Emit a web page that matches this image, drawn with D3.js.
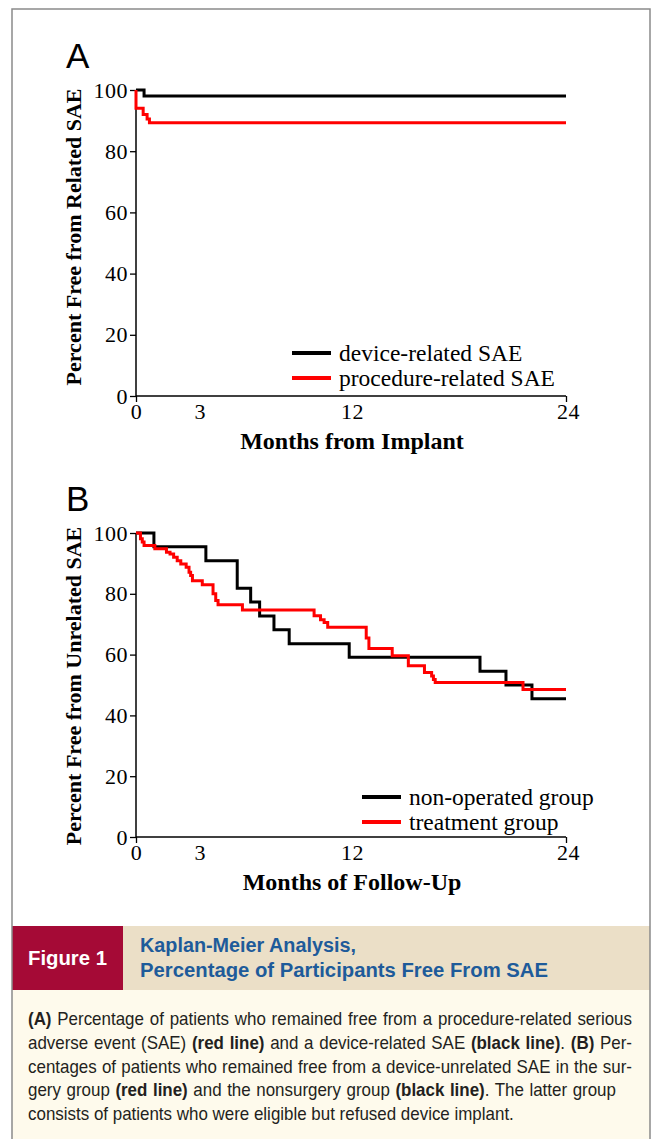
<!DOCTYPE html>
<html>
<head>
<meta charset="utf-8">
<script src="https://cdn.jsdelivr.net/npm/d3@7"></script>
<style>
  html, body { margin: 0; padding: 0; background: #fff; }
  svg { display: block; }
</style>
</head>
<body>
<svg id="fig" width="656" height="1139"></svg>
<script>
// ---------- DATA ----------
const monthTicks = [0, 3, 12, 24];
const percentTicks = [0, 20, 40, 60, 80, 100];

// Panel A
const deviceRelatedTimes = [0, 0.45];
const deviceRelatedValues = [100, 98];
const procedureRelatedTimes = [0, 0, 0.4, 0.62, 0.75];
const procedureRelatedValues = [100, 94, 92, 90.5, 89.3];

// Panel B
const nonOperatedTimes = [0, 1.0, 3.9, 5.65, 6.4, 6.9, 7.7, 8.55, 11.9, 19.2, 20.65, 22.1];
const nonOperatedValues = [100, 95.5, 90.9, 81.8, 77.3, 72.7, 68.2, 63.6, 59.1, 54.5, 50.0, 45.5];
const treatmentTimes = [0, 0.25, 0.35, 0.45, 1.05, 1.7, 1.9, 2.1, 2.3, 2.5, 2.8, 2.96, 3.05, 3.15, 3.7, 4.3, 4.45, 4.58, 5.94, 9.94, 10.3, 10.5, 10.7, 12.85, 13.0, 14.3, 15.2, 16.1, 16.5, 16.6, 16.7, 21.6];
const treatmentValues = [100, 98.1, 97.0, 95.9, 94.8, 93.7, 93.1, 92.0, 90.9, 89.8, 88.7, 87.1, 86.0, 84.3, 83.0, 80.0, 77.8, 76.4, 74.7, 72.8, 71.5, 70.6, 69.0, 65.5, 62.0, 59.6, 56.3, 54.1, 53.0, 51.8, 50.8, 48.5];
const followUpEnd = 24;

const panels = [
  {
    letter: "A",
    yLabel: "Percent Free from Related SAE",
    xLabel: "Months from Implant",
    series: [
      { name: "device-related SAE", times: deviceRelatedTimes, values: deviceRelatedValues, color: "#000000" },
      { name: "procedure-related SAE", times: procedureRelatedTimes, values: procedureRelatedValues, color: "#ff0000" }
    ],
    top: 90, bottom: 396, legendX: 292, legendY: 353, yLabelShift: -6
  },
  {
    letter: "B",
    yLabel: "Percent Free from Unrelated SAE",
    xLabel: "Months of Follow-Up",
    series: [
      { name: "non-operated group", times: nonOperatedTimes, values: nonOperatedValues, color: "#000000" },
      { name: "treatment group", times: treatmentTimes, values: treatmentValues, color: "#ff0000" }
    ],
    top: 533, bottom: 837, legendX: 362, legendY: 797, yLabelShift: 1
  }
];

const captionLines = [
  { parts: [["(A)", true], [" Percentage of patients who remained free from a procedure-related serious", false]], width: 604 },
  { parts: [["adverse event (SAE) ", false], ["(red line)", true], [" and a device-related SAE ", false], ["(black line)", true], [". ", false], ["(B)", true], [" Per-", false]], width: 604 },
  { parts: [["centages of patients who remained free from a device-unrelated SAE in the sur-", false]], width: 604 },
  { parts: [["gery group ", false], ["(red line)", true], [" and the nonsurgery group ", false], ["(black line)", true], [". The latter group", false]], width: 588 },
  { parts: [["consists of patients who were eligible but refused device implant.", false]], width: null }
];
const referenceLineIndex = 2;      // plain line used to set glyph width
const referenceLineNatural = 598;

// ---------- DRAW ----------
const svg = d3.select("#fig");
const serif = "'Liberation Serif', 'Times New Roman', serif";
const sans = "'Liberation Sans', Arial, sans-serif";
const narrow = "'Liberation Sans Narrow', 'Arial Narrow', 'Liberation Sans', sans-serif";

svg.append("rect").attr("x", 0).attr("y", 0).attr("width", 656).attr("height", 1139).attr("fill", "#ffffff");

const xLeft = 136, xRight = 566;

panels.forEach(p => {
  const x = d3.scaleLinear().domain([0, 24]).range([xLeft, xRight]);
  const y = d3.scaleLinear().domain([0, 100]).range([p.bottom, p.top]);
  const g = svg.append("g");

  g.append("text").attr("x", 66).attr("y", p.top - 22)
    .attr("font-family", sans).attr("font-size", 35).attr("fill", "#000").text(p.letter);

  const yAxis = g.append("g").attr("transform", `translate(${xLeft},0)`)
    .call(d3.axisLeft(y).tickValues(percentTicks).tickSize(6).tickPadding(2));
  yAxis.select(".domain").attr("stroke-width", 1.5).attr("d", `M0,${p.top}V${p.bottom}`);
  yAxis.selectAll(".tick line").attr("stroke-width", 1.3);
  yAxis.selectAll(".tick text").attr("font-family", serif).attr("font-size", 22).attr("fill", "#000")
    .attr("letter-spacing", 0.5);

  const xAxis = g.append("g").attr("transform", `translate(0,${p.bottom})`)
    .call(d3.axisBottom(x).tickValues(monthTicks).tickSize(6).tickPadding(1));
  xAxis.select(".domain").attr("stroke-width", 1.5).attr("d", `M${xLeft},0H${xRight}`);
  xAxis.selectAll(".tick line").attr("stroke-width", 1.3).attr("display", d => (d === 0 || d === 24) ? null : "none");
  xAxis.selectAll(".tick text").attr("font-family", serif).attr("font-size", 22).attr("fill", "#000")
    .attr("letter-spacing", 0.5)
    .attr("dx", d => d === 3 ? 10 : (d === 12 ? 1 : (d === 24 ? 2 : 0)));

  g.append("text")
    .attr("transform", `translate(81,${(p.top + p.bottom) / 2 + p.yLabelShift}) rotate(-90)`)
    .attr("text-anchor", "middle").attr("font-family", serif).attr("font-weight", "bold")
    .attr("font-size", 22).attr("fill", "#000").text(p.yLabel);
  g.append("text").attr("x", (xLeft + xRight) / 2 + 1).attr("y", p.bottom + 53)
    .attr("text-anchor", "middle").attr("font-family", serif).attr("font-weight", "bold")
    .attr("font-size", 24).attr("fill", "#000").text(p.xLabel);

  const line = d3.line().x(d => x(d[0])).y(d => y(d[1])).curve(d3.curveStepAfter);
  p.series.forEach(s => {
    const pts = s.times.map((t, i) => [t, s.values[i]]);
    pts.push([followUpEnd, s.values[s.values.length - 1]]);
    g.append("path").datum(pts).attr("d", line)
      .attr("fill", "none").attr("stroke", s.color).attr("stroke-width", 3)
      .attr("stroke-linejoin", "miter");
  });

  p.series.forEach((s, i) => {
    const ly = p.legendY + i * 25;
    g.append("line").attr("x1", p.legendX).attr("x2", p.legendX + 39)
      .attr("y1", ly).attr("y2", ly).attr("stroke", s.color).attr("stroke-width", 4);
    g.append("text").attr("x", p.legendX + 47).attr("y", ly + 8)
      .attr("font-family", serif).attr("font-size", 23.5).attr("fill", "#000").text(s.name);
  });
});

// header band
const headTop = 926, headBottom = 990;
svg.append("rect").attr("x", 12).attr("y", headTop).attr("width", 638).attr("height", headBottom - headTop).attr("fill", "#ebdfc7");
svg.append("rect").attr("x", 12).attr("y", headTop).attr("width", 111).attr("height", headBottom - headTop).attr("fill", "#a50a36");
svg.append("text").attr("x", 28).attr("y", 965).attr("font-family", narrow).attr("font-weight", "bold")
  .attr("font-size", 20).attr("fill", "#ffffff").attr("textLength", 79).attr("lengthAdjust", "spacingAndGlyphs").text("Figure 1");
svg.append("text").attr("x", 140).attr("y", 952).attr("font-family", narrow).attr("font-weight", "bold")
  .attr("font-size", 20).attr("fill", "#1e5b9a").attr("textLength", 216).attr("lengthAdjust", "spacingAndGlyphs").text("Kaplan-Meier Analysis,");
svg.append("text").attr("x", 140).attr("y", 977).attr("font-family", narrow).attr("font-weight", "bold")
  .attr("font-size", 20).attr("fill", "#1e5b9a").attr("textLength", 408).attr("lengthAdjust", "spacingAndGlyphs").text("Percentage of Participants Free From SAE");

// caption
svg.append("rect").attr("x", 12).attr("y", headBottom).attr("width", 638).attr("height", 1139 - headBottom + 10).attr("fill", "#fefaec");
const capTexts = captionLines.map((ln, i) => {
  const t = svg.append("text").attr("x", 28).attr("y", 1025 + i * 23.8)
    .attr("font-family", narrow).attr("font-size", 17.5).attr("fill", "#231f20");
  ln.parts.forEach(([txt, bold]) => {
    t.append("tspan").attr("font-weight", bold ? "bold" : "normal").text(txt);
  });
  return t;
});
const natRef = capTexts[referenceLineIndex].node().getComputedTextLength();
const sx = referenceLineNatural / natRef;
capTexts.forEach((t, i) => {
  const ln = captionLines[i];
  t.attr("x", 28 / sx).attr("transform", `scale(${sx},1)`);
  if (ln.width) {
    const nat = t.node().getComputedTextLength();
    const spaces = ln.parts.map(d => d[0]).join("").split(" ").length - 1;
    const extra = (ln.width / sx - nat) / spaces;
    t.style("word-spacing", extra + "px");
  }
});

// outer frame
svg.append("rect").attr("x", 12).attr("y", 9).attr("width", 638).attr("height", 1150)
  .attr("fill", "none").attr("stroke", "#8a8a8a").attr("stroke-width", 1.5);
</script>
</body>
</html>
